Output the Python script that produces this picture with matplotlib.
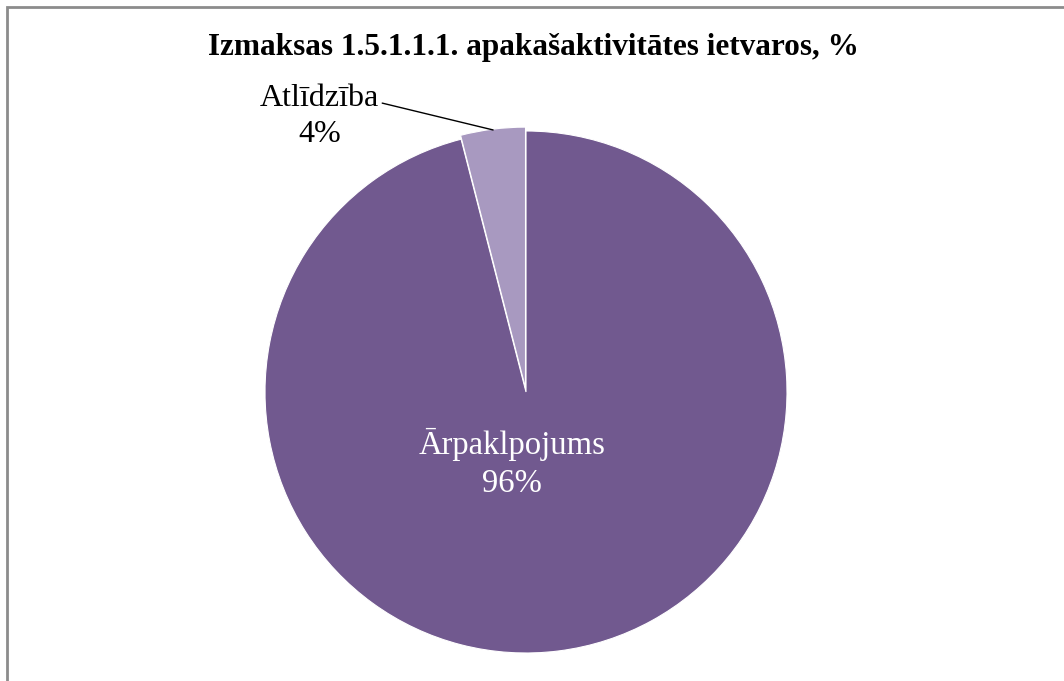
import matplotlib.pyplot as plt
from matplotlib.patches import Rectangle

title = 'Izmaksas 1.5.1.1.1. apakašaktivitātes ietvaros, %'
labels = ['Ārpaklpojums', 'Atlīdzība']
values = [96, 4]
colors = ['#71598f', '#a899c0']

plt.rcParams['font.family'] = ['Liberation Serif', 'DejaVu Serif']

fig = plt.figure(figsize=(10.64, 6.81), dpi=100)

# chart border (right/bottom cut off like the original screenshot)
fig.patches.append(Rectangle((7 / 1064, -0.05), 1.2, (681 - 7) / 681 + 0.05,
                             transform=fig.transFigure, fill=False,
                             edgecolor='#8c8c8c', linewidth=2))

cx, cy, r = 526, 392, 261
ax = fig.add_axes([(cx - r) / 1064, (681 - cy - r) / 681, 2 * r / 1064, 2 * r / 681])
wedges, _ = ax.pie(values, colors=colors, startangle=90, counterclock=False,
                   explode=[0, 0.015], radius=1,
                   wedgeprops=dict(edgecolor='white', linewidth=0.8))
for w in wedges:
    w.set_clip_on(False)
ax.set_xlim(-1, 1)
ax.set_ylim(-1, 1)
ax.set_aspect('equal')
ax.axis('off')

ax.text(-0.054, -0.275, f'{labels[0]}\n{values[0]}%', color='white', fontsize=23.5,
        ha='center', va='center', linespacing=1.32)
ax.annotate(f'{labels[1]}\n{values[1]}%', xy=(-0.126, 1.004), xytext=(-0.79, 1.055),
            ha='center', va='center', fontsize=23, linespacing=1.3,
            arrowprops=dict(arrowstyle='-', color='black', lw=1,
                            shrinkA=0, shrinkB=0, relpos=(1.0, 0.72)),
            annotation_clip=False)

fig.text(533 / 1064, 1 - 48 / 681, title, ha='center', va='center',
         fontsize=22.5, fontweight='bold')

fig.savefig('out.png', dpi=100)
